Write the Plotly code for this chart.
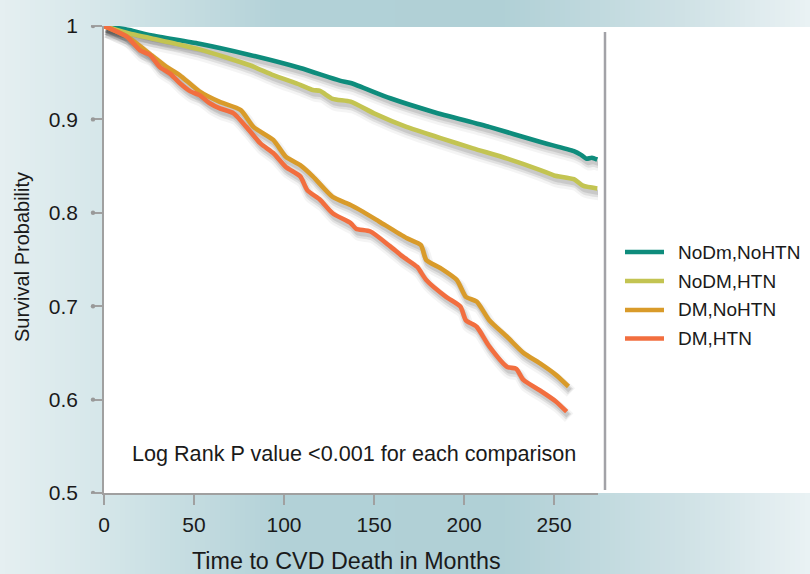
import plotly.graph_objects as go

# ---------------- data ----------------
t_nodm_nohtn = [0, 14, 26, 53, 81, 109, 131, 137, 159, 183, 214, 242, 261, 265, 268, 271, 274]
s_nodm_nohtn = [1.0, 0.9957, 0.990, 0.981, 0.969, 0.955, 0.9415, 0.939, 0.9226, 0.908, 0.892, 0.876,
                0.866, 0.862, 0.858, 0.859, 0.857]

t_nodm_htn = [0, 14, 26, 53, 81, 94, 109, 116, 120, 127, 137, 150, 168, 187, 205, 224, 242, 250, 261, 266, 274]
s_nodm_htn = [1.0, 0.992, 0.987, 0.975, 0.958, 0.9475, 0.937, 0.9315, 0.9305, 0.922, 0.919, 0.9065,
              0.892, 0.880, 0.869, 0.858, 0.846, 0.840, 0.836, 0.829, 0.826]

t_dm_nohtn = [0, 12.6, 25.6, 35, 42, 53, 64, 76, 83, 94, 101, 109, 116, 127, 137, 144, 153, 168, 176,
              179, 187, 196, 201, 207, 214, 224, 233, 242, 251, 258]
s_dm_nohtn = [1.0, 0.989, 0.970, 0.956, 0.9475, 0.930, 0.919, 0.910, 0.892, 0.878, 0.860, 0.851, 0.839,
              0.817, 0.8084, 0.801, 0.7905, 0.773, 0.7655, 0.7495, 0.7406, 0.728, 0.710, 0.705, 0.685,
              0.667, 0.650, 0.639, 0.6265, 0.614]

t_dm_htn = [0, 12.6, 20, 25.6, 31, 36.7, 42, 48, 53, 59, 64, 72, 79, 87, 94, 101, 109, 113, 120, 127,
            137, 140, 148, 159, 166, 174, 179, 190, 198, 201, 207, 214, 224, 229, 233, 242, 251, 257]
s_dm_htn = [1.0, 0.9886, 0.974, 0.969, 0.956, 0.949, 0.939, 0.930, 0.926, 0.917, 0.912, 0.9065, 0.892,
            0.874, 0.864, 0.849, 0.839, 0.824, 0.814, 0.7995, 0.789, 0.783, 0.780, 0.764, 0.753, 0.742,
            0.728, 0.710, 0.6995, 0.685, 0.678, 0.657, 0.635, 0.633, 0.621, 0.610, 0.598, 0.587]

series_names = ["NoDm,NoHTN", "NoDM,HTN", "DM,NoHTN", "DM,HTN"]
series_t = [t_nodm_nohtn, t_nodm_htn, t_dm_nohtn, t_dm_htn]
series_s = [s_nodm_nohtn, s_nodm_htn, s_dm_nohtn, s_dm_htn]
series_colors = ["#0e8c7c", "#c3c452", "#d99b2a", "#f26e3f"]

x_tick_vals = [0, 50, 100, 150, 200, 250]
y_tick_vals = [0.5, 0.6, 0.7, 0.8, 0.9, 1.0]
y_tick_text = ["0.5", "0.6", "0.7", "0.8", "0.9", "1"]

x_title = "Time to CVD Death in Months"
y_title = "Survival Probability"
note_text = "Log Rank P value <0.001 for each comparison"

# ---------------- layout geometry ----------------
W, H = 810, 574
ML, MR, MT, MB = 104, 212, 26, 81
PW = W - ML - MR
PH = H - MT - MB
X_MAX = 274.4
Y_MIN, Y_MAX = 0.5, 1.0
px_per_x = PW / X_MAX
px_per_y = PH / (Y_MAX - Y_MIN)


def px_to_paper_x(p):
    return (p - ML) / PW


def py_to_paper_y(p):
    return (H - MB - p) / PH


FONT = "Liberation Sans, Arial, Helvetica, sans-serif"
TEXT_COLOR = "#1a1a1a"
AXIS_GRAY = "#a0a0a0"

fig = go.Figure()

# soft drop shadows (offset copies of each curve)
for t_vals, s_vals in zip(series_t, series_s):
    for width, alpha, dxp, dyp in [(12, 0.045, 2.5, 6), (8, 0.08, 2, 5), (5, 0.10, 1.5, 4)]:
        fig.add_trace(go.Scatter(
            x=[v + dxp / px_per_x for v in t_vals],
            y=[v - dyp / px_per_y for v in s_vals],
            mode="lines", line=dict(color=f"rgba(0,0,0,{alpha})", width=width,
                                    shape="spline", smoothing=0.6),
            hoverinfo="skip", showlegend=False, cliponaxis=False))

for name, t_vals, s_vals, col in zip(series_names, series_t, series_s, series_colors):
    fig.add_trace(go.Scatter(
        x=t_vals, y=s_vals, mode="lines", name=name,
        line=dict(color=col, width=4.6, shape="spline", smoothing=0.6),
        showlegend=False, cliponaxis=False))

shapes = []


# background gradient stripes
def lerp(a, b, f):
    return tuple(a[i] + (b[i] - a[i]) * f for i in range(3))


stops = [(0.0, (229, 239, 241)), (0.12, (214, 231, 234)), (0.35, (178, 209, 215)),
         (0.62, (176, 208, 214)), (0.85, (208, 226, 230)), (1.0, (234, 242, 244))]


def grad_color(f):
    for (f0, c0), (f1, c1) in zip(stops[:-1], stops[1:]):
        if f0 <= f <= f1:
            c = lerp(c0, c1, (f - f0) / (f1 - f0))
            return "rgb(%d,%d,%d)" % tuple(int(round(v)) for v in c)
    return "rgb(%d,%d,%d)" % stops[-1][1]


step = 5
for p in range(0, W, step):
    shapes.append(dict(type="rect", xref="paper", yref="paper",
                       x0=px_to_paper_x(p), x1=px_to_paper_x(p + step + 1),
                       y0=py_to_paper_y(H + 2), y1=py_to_paper_y(-2),
                       line=dict(width=0), fillcolor=grad_color((p + step / 2) / W), layer="below"))

# white panel
shapes.append(dict(type="rect", xref="paper", yref="paper",
                   x0=px_to_paper_x(ML), x1=px_to_paper_x(W + 2),
                   y0=0, y1=py_to_paper_y(27),
                   line=dict(width=0), fillcolor="white", layer="below"))

# vertical separator line at right of plot
shapes.append(dict(type="line", xref="paper", yref="paper",
                   x0=px_to_paper_x(605), x1=px_to_paper_x(605),
                   y0=py_to_paper_y(490), y1=py_to_paper_y(32),
                   line=dict(color="#a2a2a7", width=2.5)))

# tick dots on y axis
for v in y_tick_vals:
    shapes.append(dict(type="circle", xref="paper", yref="y",
                       xsizemode="pixel", ysizemode="pixel",
                       xanchor=px_to_paper_x(ML - 11), yanchor=v,
                       x0=-2.2, x1=2.2, y0=-2.2, y1=2.2,
                       line=dict(width=0), fillcolor="#999999"))

annotations = []

# manual legend
legend_rows = [252, 281, 310, 338.5]
for name, col, yr in zip(series_names, series_colors, legend_rows):
    shapes.append(dict(type="line", xref="paper", yref="paper",
                       x0=px_to_paper_x(625), x1=px_to_paper_x(664),
                       y0=py_to_paper_y(yr), y1=py_to_paper_y(yr),
                       line=dict(color=col, width=4.5)))
    annotations.append(dict(xref="paper", yref="paper", x=px_to_paper_x(676), y=py_to_paper_y(yr),
                            text=name, showarrow=False, xanchor="left", yanchor="middle",
                            font=dict(family=FONT, size=19, color=TEXT_COLOR)))

annotations.append(dict(xref="paper", yref="paper", x=px_to_paper_x(130), y=py_to_paper_y(453),
                        text=note_text, showarrow=False, xanchor="left", yanchor="middle",
                        font=dict(family=FONT, size=21.6, color=TEXT_COLOR)))
annotations.append(dict(xref="paper", yref="paper", x=px_to_paper_x(346), y=py_to_paper_y(561),
                        text=x_title, showarrow=False, xanchor="center", yanchor="middle",
                        font=dict(family=FONT, size=23.3, color=TEXT_COLOR)))
annotations.append(dict(xref="paper", yref="paper", x=px_to_paper_x(22), y=py_to_paper_y(257),
                        text=y_title, showarrow=False, xanchor="center", yanchor="middle",
                        textangle=-90,
                        font=dict(family=FONT, size=20, color=TEXT_COLOR)))

fig.update_layout(
    width=W, height=H,
    margin=dict(l=ML, r=MR, t=MT, b=MB, pad=0),
    paper_bgcolor="rgb(200,222,226)",
    plot_bgcolor="rgba(0,0,0,0)",
    showlegend=False,
    shapes=shapes,
    annotations=annotations,
    font=dict(family=FONT, color=TEXT_COLOR),
    xaxis=dict(range=[0, X_MAX], tickvals=x_tick_vals, ticks="outside", ticklen=10,
               tickcolor=AXIS_GRAY, tickwidth=1.5, showline=True, linecolor=AXIS_GRAY, linewidth=1.5,
               showgrid=False, zeroline=False, tickfont=dict(family=FONT, size=21, color=TEXT_COLOR),
               ticklabelstandoff=2),
    yaxis=dict(range=[Y_MIN, Y_MAX], tickvals=y_tick_vals, ticktext=y_tick_text, ticks="outside",
               ticklen=11, tickcolor=AXIS_GRAY, tickwidth=1.5, showline=True, linecolor=AXIS_GRAY,
               linewidth=1.5, showgrid=False, zeroline=False,
               tickfont=dict(family=FONT, size=21, color=TEXT_COLOR), ticklabelstandoff=9),
)

fig.write_html("out.html", config={"displayModeBar": False},
               post_script="document.body.style.margin='0px';document.body.style.overflow='hidden';")
